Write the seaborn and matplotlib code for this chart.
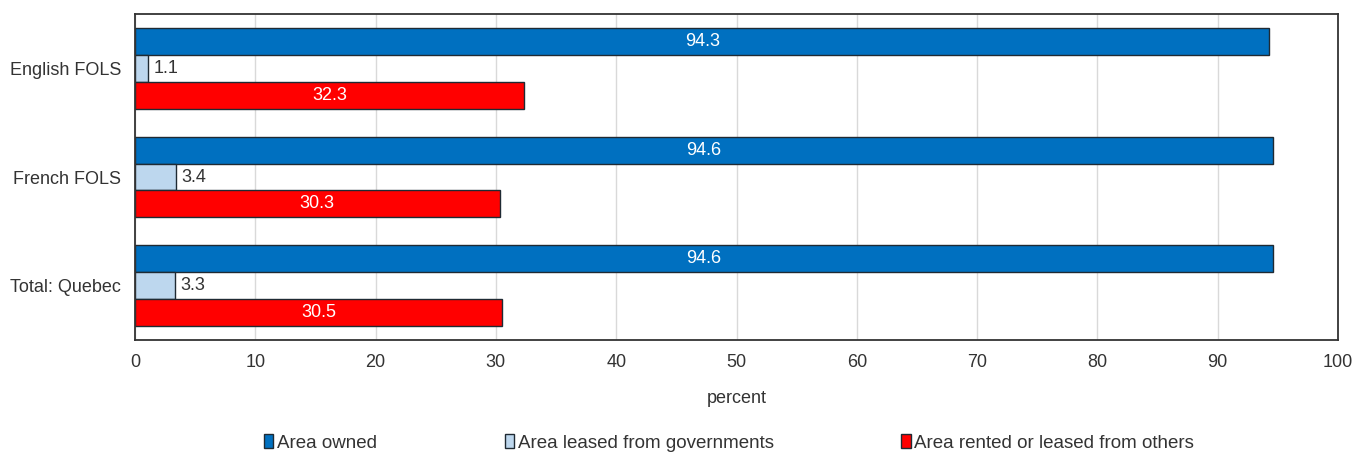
import matplotlib
matplotlib.use("Agg")
import matplotlib.pyplot as plt
from matplotlib import font_manager
import seaborn as sns
import pandas as pd

regions = ["English FOLS", "French FOLS", "Total: Quebec"]
series = ["Area owned", "Area leased from governments", "Area rented or leased from others"]
area_owned = [94.3, 94.6, 94.6]
area_leased_gov = [1.1, 3.4, 3.3]
area_rented_others = [32.3, 30.3, 30.5]
colors = ["#0070C0", "#BDD7EE", "#FF0000"]

sns.set_theme(style="white")
names = {f.name for f in font_manager.fontManager.ttflist}
family = "Liberation Sans Narrow" if "Liberation Sans Narrow" in names else "Liberation Sans"
plt.rcParams["font.family"] = [family, "DejaVu Sans"]

rows = []
for vals, name in zip([area_owned, area_leased_gov, area_rented_others], series):
    for r, v in zip(regions, vals):
        rows.append({"region": r, "type": name, "value": v})
df = pd.DataFrame(rows)

fig = plt.figure(figsize=(13.54, 4.54), dpi=100)
ax = fig.add_axes([135 / 1354, 1 - 340 / 454, (1338 - 135) / 1354, (340 - 14) / 454])

sns.barplot(data=df, y="region", x="value", hue="type", hue_order=series,
            order=regions, palette=colors, saturation=1, orient="h", width=0.743,
            edgecolor="#1f2a33", linewidth=1.0, ax=ax, legend=True)

ax.set_xlim(0, 100)
ax.set_ylim(2.5, -0.5)
ax.set_xticks(range(0, 101, 10))
ax.xaxis.grid(True, color="#d9d9d9", linewidth=1)
ax.set_axisbelow(True)
ax.tick_params(axis="both", length=0, labelsize=13, colors="#333333")
ax.tick_params(axis="x", pad=10)
ax.tick_params(axis="y", pad=10)
ax.set_ylabel("")
ax.set_xlabel("percent", fontsize=13, color="#333333", labelpad=14)
for s in ax.spines.values():
    s.set_color("#333333")
    s.set_linewidth(1.3)

inside = {0: True, 1: False, 2: True}
for i, cont in enumerate(ax.containers):
    labels = [f"{b.get_width():.1f}" for b in cont]
    if inside[i]:
        ax.bar_label(cont, labels=labels, label_type="center", color="white", fontsize=13)
    else:
        ax.bar_label(cont, labels=labels, label_type="edge", padding=4, color="#333333", fontsize=13)

handles, labs = ax.get_legend_handles_labels()
ax.get_legend().remove()
fig.legend(handles, labs, loc="center", bbox_to_anchor=(729 / 1354, 1 - 443 / 454), ncol=3,
           frameon=False, fontsize=13.5, handlelength=0.5, handleheight=0.7,
           handletextpad=0.2, columnspacing=6.8, labelcolor="#333333")

fig.savefig("out.png", dpi=100)
